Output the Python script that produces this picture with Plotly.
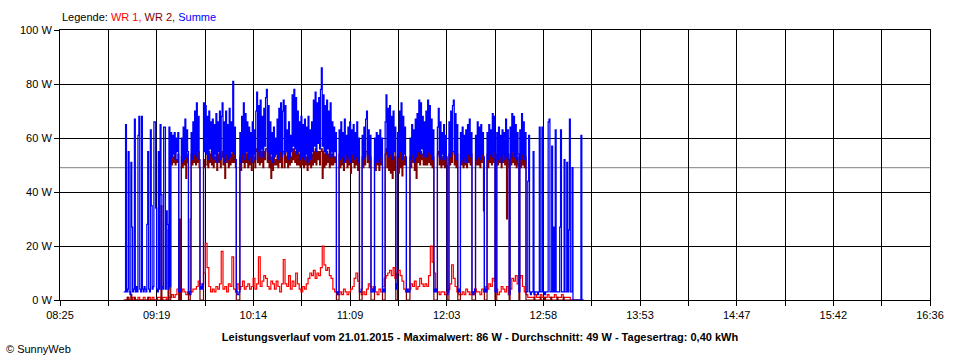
import plotly.graph_objects as go
import pandas as pd
from datetime import datetime

# ---------------- data ----------------
DAY_START = "2015-01-21 08:25:00"
DAY_END = "2015-01-21 16:36:00"
SUMME_START = "2015-01-21 09:01:00"   # Summe and WR 2 sampled every 30 s
WR1_START = "2015-01-21 09:01:00"     # WR 1 sampled every 60 s

MAX_W = 86
AVG_W = 49
YIELD_KWH = "0,40"
DATE_TXT = "21.01.2015"

x_tick_labels = ["08:25", "", "09:19", "", "10:14", "", "11:09", "", "12:03", "",
                 "12:58", "", "13:53", "", "14:47", "", "15:42", "", "16:36"]
y_tick_values = [0, 20, 40, 60, 80, 100]
y_tick_labels = ["0 W", "20 W", "40 W", "60 W", "80 W", "100 W"]

summe = [
    3, 3, 65, 3, 4, 55, 3, 2, 51, 27, 3, 4, 67, 3, 5, 3, 61, 68, 4, 3,
    68, 4, 3, 5, 4, 3, 28, 55, 4, 3, 63, 35, 4, 5, 66, 66, 34, 4, 3, 55,
    4, 65, 39, 5, 4, 64, 64, 4, 33, 28, 4, 64, 5, 62, 53, 61, 54, 62, 52, 60,
    55, 62, 3, 4, 3, 60, 51, 64, 52, 67, 53, 63, 55, 3, 2, 3, 62, 52, 66, 54,
    70, 53, 73, 55, 68, 52, 4, 5, 4, 6, 73, 55, 72, 54, 68, 52, 70, 56, 66, 53,
    67, 52, 65, 54, 69, 51, 66, 55, 70, 52, 68, 73, 53, 66, 51, 70, 54, 65, 52, 71,
    53, 66, 55, 81, 54, 64, 52, 3, 2, 2, 3, 62, 51, 68, 54, 73, 52, 69, 55, 66,
    52, 64, 53, 62, 51, 66, 54, 63, 52, 70, 77, 55, 72, 53, 74, 56, 68, 53, 71, 57,
    75, 78, 55, 72, 52, 66, 54, 62, 51, 64, 53, 60, 54, 67, 52, 71, 55, 73, 53, 70,
    74, 54, 72, 55, 63, 52, 66, 53, 61, 55, 76, 57, 78, 56, 75, 54, 70, 55, 66, 52,
    68, 53, 65, 52, 67, 54, 64, 51, 68, 53, 63, 52, 66, 55, 74, 57, 77, 55, 73, 58,
    75, 56, 78, 86, 57, 76, 55, 72, 54, 74, 56, 70, 53, 73, 55, 66, 53, 64, 55, 62,
    3, 2, 3, 63, 52, 66, 53, 62, 51, 67, 54, 61, 52, 64, 53, 66, 51, 63, 54, 65,
    52, 62, 53, 66, 51, 60, 3, 3, 4, 61, 52, 64, 53, 67, 70, 54, 63, 52, 61, 3,
    3, 4, 3, 60, 51, 62, 52, 61, 51, 63, 53, 60, 3, 4, 3, 66, 76, 55, 71, 53,
    72, 54, 68, 52, 70, 55, 64, 4, 6, 62, 53, 70, 55, 73, 52, 68, 54, 64, 53, 3,
    4, 3, 3, 60, 52, 65, 54, 63, 51, 67, 53, 69, 55, 74, 54, 73, 56, 68, 53, 66,
    54, 70, 53, 74, 55, 72, 54, 67, 52, 63, 3, 4, 3, 4, 64, 71, 53, 66, 52, 62,
    54, 65, 52, 61, 53, 2, 3, 66, 53, 70, 55, 72, 74, 54, 69, 52, 65, 3, 4, 3,
    62, 52, 64, 51, 61, 53, 63, 51, 65, 54, 67, 53, 62, 3, 2, 3, 4, 61, 52, 66,
    53, 64, 52, 65, 54, 62, 53, 3, 4, 3, 62, 52, 65, 54, 63, 53, 69, 55, 68, 3,
    3, 62, 52, 64, 53, 61, 51, 63, 54, 62, 52, 67, 53, 63, 52, 2, 64, 53, 69, 55,
    68, 53, 65, 52, 62, 54, 3, 63, 52, 69, 54, 66, 52, 62, 3, 3, 44, 61, 3, 2,
    3, 3, 55, 2, 3, 3, 3, 2, 3, 64, 3, 3, 64, 3, 3, 2, 3, 3, 3, 66,
    67, 3, 3, 57, 3, 27, 3, 63, 3, 3, 3, 3, 27, 63, 3, 3, 3, 52, 3, 3,
    51, 3, 26, 67, 3, 3, 49, 0, 0, 0, 0, 0, 0, 0, 0, 0, 61, 0, 0, 0,
]

wr2 = [
    0, 0, 0, 0, 1, 0, 0, 0, 2, 0, 0, 0, 1, 0, 0, 0, 0, 0, 0, 0,
    0, 0, 0, 0, 0, 0, 0, 1, 0, 0, 0, 0, 0, 0, 0, 0, 0, 0, 0, 0,
    0, 0, 35, 0, 0, 0, 0, 0, 0, 0, 26, 0, 0, 54, 50, 53, 51, 54, 50, 52,
    51, 54, 0, 30, 0, 53, 49, 55, 50, 55, 45, 54, 51, 0, 0, 30, 54, 50, 55, 51,
    55, 50, 56, 51, 55, 49, 0, 0, 0, 0, 52, 49, 50, 50, 54, 49, 55, 51, 54, 50,
    54, 49, 53, 51, 55, 48, 54, 51, 55, 49, 53, 55, 50, 54, 45, 55, 51, 54, 49, 55,
    50, 54, 51, 55, 51, 54, 49, 0, 0, 0, 0, 53, 48, 55, 51, 56, 49, 55, 51, 54,
    49, 53, 50, 53, 48, 54, 51, 53, 49, 55, 56, 51, 55, 50, 56, 51, 55, 49, 55, 52,
    56, 56, 51, 55, 49, 54, 45, 53, 48, 54, 50, 52, 50, 54, 49, 55, 51, 55, 49, 55,
    55, 49, 55, 51, 53, 49, 54, 50, 53, 51, 56, 52, 56, 51, 55, 50, 55, 50, 54, 49,
    54, 50, 53, 49, 54, 50, 53, 48, 54, 50, 53, 49, 54, 50, 55, 51, 56, 50, 55, 52,
    55, 50, 55, 56, 45, 55, 49, 54, 50, 55, 51, 54, 49, 55, 50, 54, 50, 53, 51, 53,
    0, 0, 0, 54, 49, 55, 50, 54, 48, 55, 51, 54, 49, 55, 50, 55, 47, 54, 51, 55,
    49, 54, 50, 55, 48, 53, 0, 0, 0, 53, 49, 54, 50, 55, 55, 51, 54, 49, 53, 0,
    0, 0, 0, 53, 48, 54, 50, 53, 48, 54, 50, 53, 0, 0, 0, 54, 56, 49, 55, 48,
    55, 47, 54, 45, 55, 48, 53, 0, 0, 52, 47, 55, 49, 55, 46, 54, 50, 53, 50, 0,
    0, 0, 0, 53, 49, 54, 51, 54, 48, 55, 45, 55, 51, 56, 50, 55, 52, 54, 50, 54,
    50, 55, 50, 56, 51, 55, 50, 54, 49, 53, 0, 0, 0, 0, 54, 55, 50, 54, 49, 53,
    50, 54, 49, 53, 50, 0, 0, 54, 50, 55, 51, 55, 55, 50, 55, 49, 54, 0, 0, 0,
    54, 50, 55, 49, 54, 50, 55, 49, 55, 51, 55, 50, 54, 0, 0, 0, 0, 54, 50, 55,
    50, 54, 49, 55, 51, 54, 33, 0, 0, 0, 54, 49, 55, 51, 54, 50, 55, 51, 55, 0,
    0, 54, 50, 55, 51, 54, 49, 54, 51, 54, 50, 55, 30, 54, 49, 0, 54, 50, 55, 51,
    55, 50, 54, 49, 53, 50, 0, 53, 49, 55, 50, 54, 49, 53, 0, 0, 0, 0, 0, 0,
    0, 0, 0, 1, 0, 0, 0, 0, 0, 0, 1, 0, 0, 0, 0, 1, 0, 0, 0, 0,
    0, 0, 1, 0, 0, 0, 0, 0, 0, 1, 0, 0, 0, 0, 0, 0, 1, 0, 0, 0,
    0, 0, 0, 0, 0, 0, 0, 0, 0, 0, 0, 0, 0, 0, 0, 0, 0, 0, 0, 0,
]

wr1 = [
    0, 0, 1, 0, 0, 1, 0, 0, 1, 0,
    0, 1, 0, 0, 1, 0, 1, 0, 0, 1,
    1, 0, 1, 1, 0, 1, 1, 2, 1, 2,
    4, 5, 3, 4, 3, 2, 3, 2, 3, 4,
    4, 5, 7, 6, 5, 10, 21, 12, 5, 3,
    4, 3, 5, 4, 6, 18, 4, 5, 3, 6,
    5, 16, 4, 3, 6, 4, 5, 7, 4, 5,
    6, 4, 5, 8, 4, 6, 16, 5, 7, 9,
    8, 5, 4, 7, 6, 4, 7, 5, 3, 6,
    15, 6, 5, 9, 4, 7, 5, 10, 6, 4,
    3, 5, 4, 6, 8, 10, 9, 11, 8, 10,
    9, 12, 20, 13, 11, 12, 9, 8, 4, 3,
    3, 2, 3, 2, 4, 3, 2, 3, 4, 5,
    8, 10, 7, 3, 2, 3, 2, 4, 6, 5,
    4, 5, 3, 2, 4, 3, 5, 8, 9, 10,
    11, 9, 12, 8, 10, 11, 9, 7, 4, 3,
    3, 4, 6, 5, 7, 4, 5, 8, 6, 5,
    6, 5, 9, 20, 14, 10, 4, 3, 2, 3,
    3, 2, 3, 4, 6, 13, 8, 5, 3, 2,
    2, 3, 2, 4, 3, 2, 3, 2, 4, 3,
    3, 2, 4, 3, 5, 4, 6, 5, 8, 7,
    4, 2, 3, 5, 4, 3, 5, 2, 4, 8,
    7, 9, 6, 8, 9, 5, 3, 2, 1, 1,
    1, 1, 2, 1, 1, 2, 1, 1, 1, 2,
    1, 1, 1, 2, 1, 1, 1, 2, 1, 1,
    1, 1, 0, 0, 0, 0, 0, 0, 0, 0,
]

assert len(summe) == 520, len(summe)
assert len(wr2) == 520, len(wr2)
assert len(wr1) == 260, len(wr1)

# ---------------- build ----------------
t_30s = pd.date_range(SUMME_START, periods=len(summe), freq="30s")
t_60s = pd.date_range(WR1_START, periods=len(wr1), freq="60s")

t0 = datetime.fromisoformat(DAY_START)
t1 = datetime.fromisoformat(DAY_END)
n_int = len(x_tick_labels) - 1
tick_pos = [t0 + (t1 - t0) * k / n_int for k in range(len(x_tick_labels))]

FONT = "Liberation Sans, Arial, sans-serif"

fig = go.Figure()
fig.add_trace(go.Scatter(x=t_60s, y=wr1, mode="lines", name="WR 1",
                         line=dict(color="#FF0000", width=1.2, shape="hv")))
fig.add_trace(go.Scatter(x=t_30s, y=wr2, mode="lines", name="WR 2",
                         line=dict(color="#800000", width=1.2, shape="hv")))
fig.add_trace(go.Scatter(x=t_30s, y=summe, mode="lines", name="Summe",
                         line=dict(color="#0000FF", width=1.25, shape="hv")))

# average line
fig.add_shape(type="line", xref="paper", x0=0, x1=1, yref="y", y0=AVG_W, y1=AVG_W,
              line=dict(color="#808080", width=1), layer="below")

fig.update_layout(
    width=960, height=360,
    margin=dict(l=60, r=30, t=30, b=60),
    paper_bgcolor="white", plot_bgcolor="white",
    showlegend=False,
    font=dict(family=FONT, size=11, color="black"),
    title=dict(
        text=(f"<b>Leistungsverlauf vom {DATE_TXT} - Maximalwert: {MAX_W} W - "
              f"Durchschnitt: {AVG_W} W - Tagesertrag: {YIELD_KWH} kWh</b>"),
        x=0.5, xref="container", xanchor="center",
        y=1 - 337 / 360, yref="container", yanchor="middle",
        font=dict(family=FONT, size=11, color="black"),
    ),
    xaxis=dict(
        type="date", range=[t0, t1],
        tickmode="array", tickvals=tick_pos, ticktext=x_tick_labels,
        showgrid=True, gridcolor="black", gridwidth=1,
        showline=True, linecolor="black", linewidth=1, mirror=True,
        ticks="outside", ticklen=5, tickcolor="black", tickwidth=1,
        zeroline=False, tickangle=0,
    ),
    yaxis=dict(
        range=[0, 100],
        tickmode="array", tickvals=y_tick_values, ticktext=y_tick_labels,
        showgrid=True, gridcolor="black", gridwidth=1,
        showline=True, linecolor="black", linewidth=1, mirror=True,
        ticks="outside", ticklen=5, tickcolor="black", tickwidth=1,
        zeroline=False,
    ),
    annotations=[
        dict(text=("Legende: <span style='color:#FF0000'>WR 1, </span>"
                   "<span style='color:#800000'>WR 2, </span>"
                   "<span style='color:#0000FF'>Summe</span>"),
             xref="paper", yref="paper", x=0, y=(300 - 17) / 270,
             xanchor="left", yanchor="middle", showarrow=False,
             font=dict(family=FONT, size=11, color="black")),
        dict(text="© SunnyWeb", xref="paper", yref="paper",
             x=(4 - 60) / 870, y=(300 - 349) / 270,
             xanchor="left", yanchor="middle", showarrow=False,
             font=dict(family=FONT, size=11, color="black")),
    ],
)

fig.write_html("out.html", config={"displayModeBar": False})

# remove the browser's default 8px body margin so the figure sits at (0, 0)
with open("out.html", "r", encoding="utf-8") as f:
    html = f.read()
html = html.replace("<body>", '<body style="margin:0;padding:0;overflow:hidden">', 1)
with open("out.html", "w", encoding="utf-8") as f:
    f.write(html)
